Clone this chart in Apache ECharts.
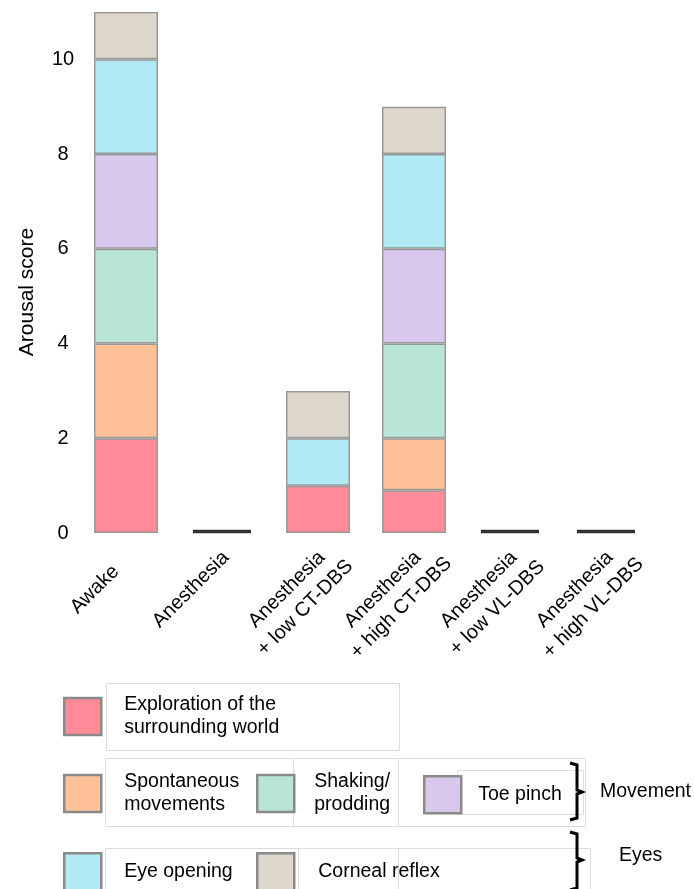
<!DOCTYPE html>
<html>
<head>
<meta charset="utf-8">
<script src="https://cdn.jsdelivr.net/npm/echarts@6/dist/echarts.min.js"></script>
<style>html,body{margin:0;padding:0;background:#fff}#c{width:694px;height:889px}</style>
</head>
<body>
<div id="c"></div>
<script>
// ---- data ----
const categories = ['Awake', 'Anesthesia', 'Anesthesia\n+ low CT-DBS', 'Anesthesia\n+ high CT-DBS', 'Anesthesia\n+ low VL-DBS', 'Anesthesia\n+ high VL-DBS'];
const exploration   = [2, 0, 1, 0.9, 0, 0];
const spontaneous   = [2, 0, 0, 1.1, 0, 0];
const shaking       = [2, 0, 0, 2, 0, 0];
const toePinch      = [2, 0, 0, 2, 0, 0];
const eyeOpening    = [2, 0, 1, 2, 0, 0];
const cornealReflex = [1, 0, 1, 1, 0, 0];
const seriesNames = ['Exploration of the surrounding world', 'Spontaneous movements', 'Shaking/prodding', 'Toe pinch', 'Eye opening', 'Corneal reflex'];
const legendLabels = ['Exploration of the\nsurrounding world', 'Spontaneous\nmovements', 'Shaking/\nprodding', 'Toe pinch', 'Eye opening', 'Corneal reflex'];
const groupLabels = ['Movement', 'Eyes'];
const yTitle = 'Arousal score';

// ---- styling ----
const colors = ['#FF8A98', '#FFC197', '#B9E5D6', '#D9C8EE', '#B1EAF4', '#DED8CC'];
const FONT = 'Liberation Sans, Arial, sans-serif';
const allSeries = [exploration, spontaneous, shaking, toePinch, eyeOpening, cornealReflex];
const totals = categories.map((_, i) => allSeries.reduce((s, a) => s + a[i], 0));

const barSeries = allSeries.map((arr, k) => ({
  name: seriesNames[k],
  type: 'bar',
  stack: 'score',
  barWidth: 64,
  itemStyle: { color: colors[k], borderColor: '#999', borderWidth: 1.5 },
  data: arr.map(v => v === 0 ? '-' : v)
}));

const zeroSeries = {
  name: 'zero',
  type: 'scatter',
  symbol: 'rect',
  symbolSize: [58, 3.5],
  symbolOffset: [0, -1.5],
  itemStyle: { color: '#000' },
  silent: true,
  z: 5,
  data: totals.map(t => t === 0 ? 0 : '-')
};

// legend placements (icon top-left)
const legendPos = [
  { left: 63, top: 693.5, pad: 18 },
  { left: 63, top: 770.5, pad: 18 },
  { left: 256, top: 770.5, pad: 15 },
  { left: 423, top: 775, pad: 12 },
  { left: 63, top: 852, pad: 18 },
  { left: 256, top: 852, pad: 19 }
];
const legends = seriesNames.map((n, k) => ({
  data: [n],
  left: legendPos[k].left,
  top: legendPos[k].top,
  padding: 0,
  icon: 'rect',
  itemWidth: 37,
  itemHeight: 37,
  itemStyle: { borderColor: '#8a8a8a', borderWidth: 2.5 },
  selectedMode: false,
  formatter: () => legendLabels[k],
  textStyle: { fontFamily: FONT, fontSize: 19.5, color: '#000', lineHeight: 23, padding: [0, 0, 0, legendPos[k].pad] }
}));

const boxStyle = { fill: 'none', stroke: '#dcdcdc', lineWidth: 1 };
const boxes = [
  [106.5, 683.5, 293, 67],
  [105.5, 758.5, 293, 68],
  [293.5, 758.5, 292, 68],
  [457.5, 770.5, 126, 44],
  [105.5, 848.5, 293, 45],
  [298.5, 848.5, 292, 45]
].map(b => ({ type: 'rect', shape: { x: b[0], y: b[1], width: b[2], height: b[3] }, style: boxStyle, z: 0, silent: true }));

const brackets = [
  [[570, 763], [577, 765], [577, 790], [582, 792], [577, 794], [577, 818], [570, 820]],
  [[570, 832], [577, 834], [577, 858], [582, 860], [577, 862], [577, 888], [570, 890]]
].map(p => ({ type: 'polyline', shape: { points: p }, style: { stroke: '#000', lineWidth: 3, fill: 'none' }, silent: true }));

const groupTexts = [
  { type: 'text', x: 600, y: 792, style: { text: groupLabels[0], font: '19.5px ' + FONT, fill: '#000', verticalAlign: 'middle' } },
  { type: 'text', x: 619, y: 856, style: { text: groupLabels[1], font: '19.5px ' + FONT, fill: '#000', verticalAlign: 'middle' } }
];

const chart = echarts.init(document.getElementById('c'), null, { renderer: 'canvas' });
chart.setOption({
  animation: false,
  textStyle: { fontFamily: FONT },
  grid: { left: 78, right: 40, top: 12, bottom: 356, containLabel: false, outerBoundsMode: 'none' },
  legend: legends,
  xAxis: {
    type: 'category',
    data: categories,
    axisLine: { show: false },
    axisTick: { show: false },
    axisLabel: {
      interval: 0, rotate: 45, align: 'center', verticalAlign: 'top',
      margin: 7, padding: [0, 114, 0, 0],
      fontSize: 20, lineHeight: 26, color: '#000', fontFamily: FONT
    }
  },
  yAxis: {
    type: 'value',
    min: 0, max: 11, interval: 2,
    name: yTitle, nameLocation: 'middle', nameGap: 40,
    nameTextStyle: { fontSize: 21, color: '#000', fontFamily: FONT, padding: [0, 39, 0, 0] },
    axisLine: { show: false },
    axisTick: { show: false },
    splitLine: { show: false },
    axisLabel: { showMaxLabel: false, fontSize: 20, color: '#000', align: 'center', margin: 15, fontFamily: FONT }
  },
  graphic: boxes.concat(brackets, groupTexts),
  series: barSeries.concat([zeroSeries])
});
</script>
</body>
</html>
